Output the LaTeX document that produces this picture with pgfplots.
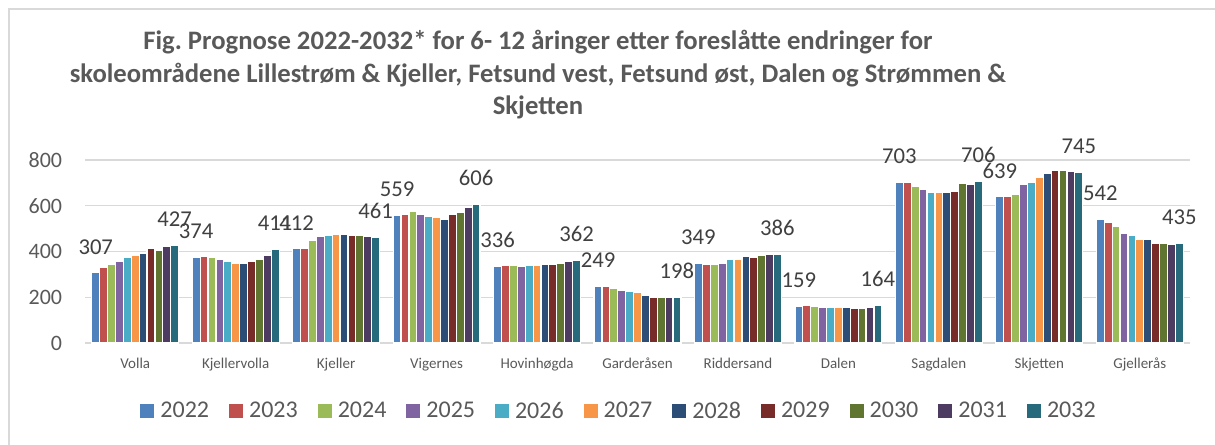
\documentclass[border=0pt]{standalone}
\usepackage{fontspec}
\setmainfont{Carlito}
\usepackage{pgfplots}
\usepackage{pgfplotstable}
\pgfplotsset{compat=1.18}
\frenchspacing
\definecolor{txt}{HTML}{595959}
\definecolor{lbl}{HTML}{404040}
\definecolor{gridc}{HTML}{D9D9D9}
\definecolor{frame}{HTML}{D9D9D9}
\definecolor{c22}{HTML}{4F81BD}
\definecolor{c23}{HTML}{C0504D}
\definecolor{c24}{HTML}{9BBB59}
\definecolor{c25}{HTML}{8064A2}
\definecolor{c26}{HTML}{4BACC6}
\definecolor{c27}{HTML}{F79646}
\definecolor{c28}{HTML}{2C4D75}
\definecolor{c29}{HTML}{772C2A}
\definecolor{c30}{HTML}{5F7530}
\definecolor{c31}{HTML}{4D3B62}
\definecolor{c32}{HTML}{276A7C}
\pgfplotstableread{
x  y22 y23 y24 y25 y26 y27 y28 y29 y30 y31 y32
0  307 331 345 356 375 385 392 412 406 422 427
1  374 380 375 366 355 346 349 358 366 385 411
2  412 415 448 467 472 473 473 470 470 467 461
3  559 564 574 561 552 549 539 561 569 591 606
4  336 339 339 334 338 338 342 345 349 355 362
5  249 249 240 230 224 221 209 200 200 198 198
6  349 343 343 349 365 365 377 374 381 386 386
7  159 165 160 154 156 156 156 151 150 156 164
8  703 701 686 670 659 660 659 662 697 694 706
9  639 642 650 692 702 722 741 753 753 750 745
10 542 529 508 480 472 453 453 435 435 433 435
}\data
\begin{document}
\begin{tikzpicture}
\path[use as bounding box] (0,0) rectangle (911.25pt,333.75pt);
\draw[frame, line width=1.1pt] (6.75pt,-5pt) -- (6.75pt,327pt) -- (920pt,327pt);
\begin{scope}[every node/.style={font=\fontsize{20pt}{24pt}\selectfont\bfseries, text=txt, anchor=base, inner sep=0pt}]
\node at (403.5pt,296.25pt) {Fig. Prognose 2022-2032* for 6- 12 åringer etter foreslåtte endringer for};
\node at (403.5pt,271.9pt) {skoleområdene Lillestrøm \& Kjeller, Fetsund vest, Fetsund øst, Dalen og Strømmen \&};
\node at (403.5pt,247.5pt) {Skjetten};
\end{scope}
\begin{axis}[
  at={(63.75pt,76.5pt)}, anchor=south west,
  scale only axis, width=828.75pt, height=137.25pt,
  xmin=-0.5, xmax=10.5, ymin=0, ymax=800,
  ytick={0,200,400,600,800},
  xtick={0,...,10},
  xticklabels={Volla,Kjellervolla,Kjeller,Vigernes,Hovinhøgda,Garderåsen,Riddersand,Dalen,Sagdalen,Skjetten,Gjellerås},
  ymajorgrids, grid style={gridc, line width=0.9pt},
  axis line style={draw=none},
  major tick length=0pt, tick style={draw=none},
  /pgf/number format/assume math mode=true,
  yticklabel style={font=\fontsize{16.5pt}{18pt}\selectfont, text=txt, anchor=east, inner sep=0pt, xshift=-17pt},
  xticklabel style={font=\fontsize{11.25pt}{13pt}\selectfont, text=txt, anchor=base, inner sep=0pt, yshift=-19pt},
  clip=false,
  ybar=0pt, bar width=0.0786,
  every axis plot/.append style={draw=white, line width=0.9pt},
  every node near coord/.append style={font=\fontsize{17pt}{18pt}\selectfont, text=lbl, inner sep=0pt, anchor=south, yshift=13.5pt},
  legend columns=11,
  legend style={at={(0.4824,-0.3716)}, anchor=center, draw=none, fill=none,
    font=\fontsize{18pt}{20pt}\selectfont, text=txt,
    nodes={inner sep=0pt},
    /tikz/every odd column/.append style={column sep=4.5pt},
    /tikz/every even column/.append style={column sep=15pt}},
  legend image code/.code={\fill[#1,draw=none] (0pt,-5.25pt) rectangle (10.5pt,5.25pt);},
]
\addplot[fill=c22, nodes near coords] table[x=x,y=y22]{\data};
\addplot[fill=c23] table[x=x,y=y23]{\data};
\addplot[fill=c24] table[x=x,y=y24]{\data};
\addplot[fill=c25] table[x=x,y=y25]{\data};
\addplot[fill=c26] table[x=x,y=y26]{\data};
\addplot[fill=c27] table[x=x,y=y27]{\data};
\addplot[fill=c28] table[x=x,y=y28]{\data};
\addplot[fill=c29] table[x=x,y=y29]{\data};
\addplot[fill=c30] table[x=x,y=y30]{\data};
\addplot[fill=c31] table[x=x,y=y31]{\data};
\addplot[fill=c32, nodes near coords] table[x=x,y=y32]{\data};
\legend{2022,2023,2024,2025,2026,2027,2028,2029,2030,2031,2032}
\end{axis}
\end{tikzpicture}
\end{document}
